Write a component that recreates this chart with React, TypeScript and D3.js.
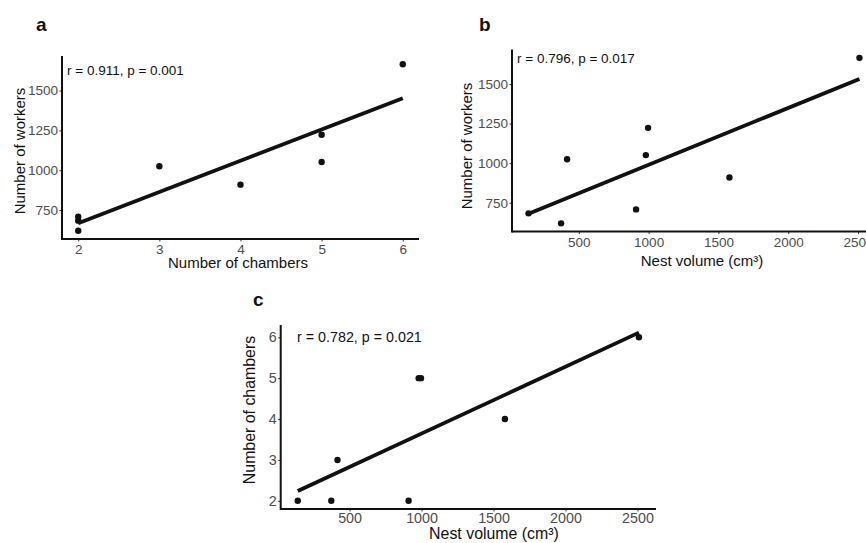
import React, { useEffect, useRef } from "react";
import * as d3 from "d3";

// one entry per nest
const nestVolume = [140, 373, 416, 910, 980, 996, 1579, 2510];
const workers = [683, 620, 1025, 708, 1051, 1223, 909, 1665];
const chambers = [2, 2, 3, 2, 5, 5, 4, 6];

const workerTicks = [750, 1000, 1250, 1500];
const chamberTicks = [2, 3, 4, 5, 6];
const volumeTicks = [500, 1000, 1500, 2000, 2500];

const statLabels = [
  "r = 0.911, p = 0.001",
  "r = 0.796, p = 0.017",
  "r = 0.782, p = 0.021",
];

const FONT = '"Liberation Sans", Arial, Helvetica, sans-serif';
const width = 866;
const height = 543;

// ggplot style 5% padding on both ends
const expand = (vals: number[]): [number, number] => {
  const [lo, hi] = d3.extent(vals) as [number, number];
  const pad = (hi - lo) * 0.05;
  return [lo - pad, hi + pad];
};

// least squares fit, like geom_smooth(method = "lm")
const fit = (xs: number[], ys: number[]) => {
  const mx = d3.mean(xs) as number;
  const my = d3.mean(ys) as number;
  let sxy = 0;
  let sxx = 0;
  xs.forEach((x, i) => {
    sxy += (x - mx) * (ys[i] - my);
    sxx += (x - mx) * (x - mx);
  });
  const slope = sxy / sxx;
  return { slope, intercept: my - slope * mx };
};

const panels = [
  {
    letter: "a",
    xs: chambers,
    ys: workers,
    xTicks: chamberTicks,
    yTicks: workerTicks,
    xTitle: "Number of chambers",
    yTitle: "Number of workers",
    stat: statLabels[0],
    left: 62,
    right: 419,
    top: 56,
    bottom: 239,
    yTopPad: 0,
    letterPos: [36, 31],
    statPos: [67, 74.5],
    xTitlePos: [238, 268],
    yTitlePos: [25, 151],
    xPad: 3,
    scale: 1,
  },
  {
    letter: "b",
    xs: nestVolume,
    ys: workers,
    xTicks: volumeTicks,
    yTicks: workerTicks,
    xTitle: "Nest volume (cm³)",
    yTitle: "Number of workers",
    stat: statLabels[1],
    left: 512,
    right: 876,
    top: 49.6,
    bottom: 231.6,
    yTopPad: 0,
    letterPos: [479, 31],
    statPos: [517, 63],
    xTitlePos: [702, 266],
    yTitlePos: [472, 146],
    xPad: 3.5,
    scale: 1,
  },
  {
    letter: "c",
    xs: nestVolume,
    ys: chambers,
    xTicks: volumeTicks,
    yTicks: chamberTicks,
    xTitle: "Nest volume (cm³)",
    yTitle: "Number of chambers",
    stat: statLabels[2],
    left: 280.7,
    right: 656,
    top: 325,
    bottom: 509,
    yTopPad: 0.1,
    letterPos: [253, 306],
    statPos: [297, 341.5],
    xTitlePos: [494, 538.5],
    yTitlePos: [255, 410],
    xPad: 1.5,
    scale: 1.06,
  },
];

const App = () => {
  const svgRef = useRef<SVGSVGElement>(null);

  useEffect(() => {
    if (!svgRef.current) return;
    const svg = d3.select(svgRef.current);
    svg.selectAll("*").remove();

    panels.forEach((p) => {
      const g = svg.append("g");
      const k = p.scale;

      const xDom = expand(p.xs);
      const yDom = expand(p.ys);
      yDom[1] += p.yTopPad;

      const x = d3.scaleLinear().domain(xDom).range([p.left, p.right]);
      const y = d3.scaleLinear().domain(yDom).range([p.bottom, p.top]);

      // axes (ticks and labels)
      const xAxis = g
        .append("g")
        .attr("transform", `translate(0,${p.bottom})`)
        .call(
          d3
            .axisBottom(x)
            .tickValues(p.xTicks)
            .tickFormat((d) => `${d}`)
            .tickSize(2.5)
            .tickPadding(p.xPad)
            .tickSizeOuter(0)
        );
      const yAxis = g
        .append("g")
        .attr("transform", `translate(${p.left},0)`)
        .call(
          d3
            .axisLeft(y)
            .tickValues(p.yTicks)
            .tickFormat((d) => `${d}`)
            .tickSize(2.5)
            .tickPadding(1.5)
            .tickSizeOuter(0)
        );

      [xAxis, yAxis].forEach((ax) => {
        ax.select(".domain").remove();
        ax.selectAll(".tick line").attr("stroke", "#333").attr("stroke-width", 1);
        ax.selectAll(".tick text")
          .attr("fill", "#4d4d4d")
          .style("font-family", FONT)
          .style("font-size", `${13.5 * k}px`);
      });

      // axis lines
      g.append("line")
        .attr("x1", p.left)
        .attr("x2", p.right)
        .attr("y1", p.bottom)
        .attr("y2", p.bottom)
        .attr("stroke", "#111")
        .attr("stroke-width", 2);
      g.append("line")
        .attr("x1", p.left)
        .attr("x2", p.left)
        .attr("y1", p.top)
        .attr("y2", p.bottom + 1)
        .attr("stroke", "#111")
        .attr("stroke-width", 2);

      // points
      g.selectAll("circle")
        .data(p.xs.map((v, i) => [v, p.ys[i]]))
        .enter()
        .append("circle")
        .attr("cx", (d) => x(d[0]))
        .attr("cy", (d) => y(d[1]))
        .attr("r", 3.2)
        .attr("fill", "#111");

      // regression line over the data range
      const { slope, intercept } = fit(p.xs, p.ys);
      const [x0, x1] = d3.extent(p.xs) as [number, number];
      g.append("path")
        .datum([x0, x1])
        .attr("fill", "none")
        .attr("stroke", "#111")
        .attr("stroke-width", 3.8)
        .attr(
          "d",
          d3
            .line<number>()
            .x((d) => x(d))
            .y((d) => y(intercept + slope * d))
        );

      // correlation text
      g.append("text")
        .attr("x", p.statPos[0])
        .attr("y", p.statPos[1])
        .style("font-family", FONT)
        .style("font-size", `${13.5 * k}px`)
        .attr("fill", "#111")
        .text(p.stat);

      // axis titles
      g.append("text")
        .attr("x", p.xTitlePos[0])
        .attr("y", p.xTitlePos[1])
        .attr("text-anchor", "middle")
        .style("font-family", FONT)
        .style("font-size", `${15 * k}px`)
        .attr("fill", "#111")
        .text(p.xTitle);
      g.append("text")
        .attr("transform", `translate(${p.yTitlePos[0]},${p.yTitlePos[1]}) rotate(-90)`)
        .attr("text-anchor", "middle")
        .style("font-family", FONT)
        .style("font-size", `${15 * k}px`)
        .attr("fill", "#111")
        .text(p.yTitle);

      // panel letter
      g.append("text")
        .attr("x", p.letterPos[0])
        .attr("y", p.letterPos[1])
        .style("font-family", FONT)
        .style("font-size", "19px")
        .style("font-weight", "bold")
        .attr("fill", "#111")
        .text(p.letter);
    });
  }, []);

  return (
    <svg
      ref={svgRef}
      width={width}
      height={height}
      style={{ position: "absolute", left: 0, top: 0, background: "#fff" }}
    ></svg>
  );
};

export default App;
